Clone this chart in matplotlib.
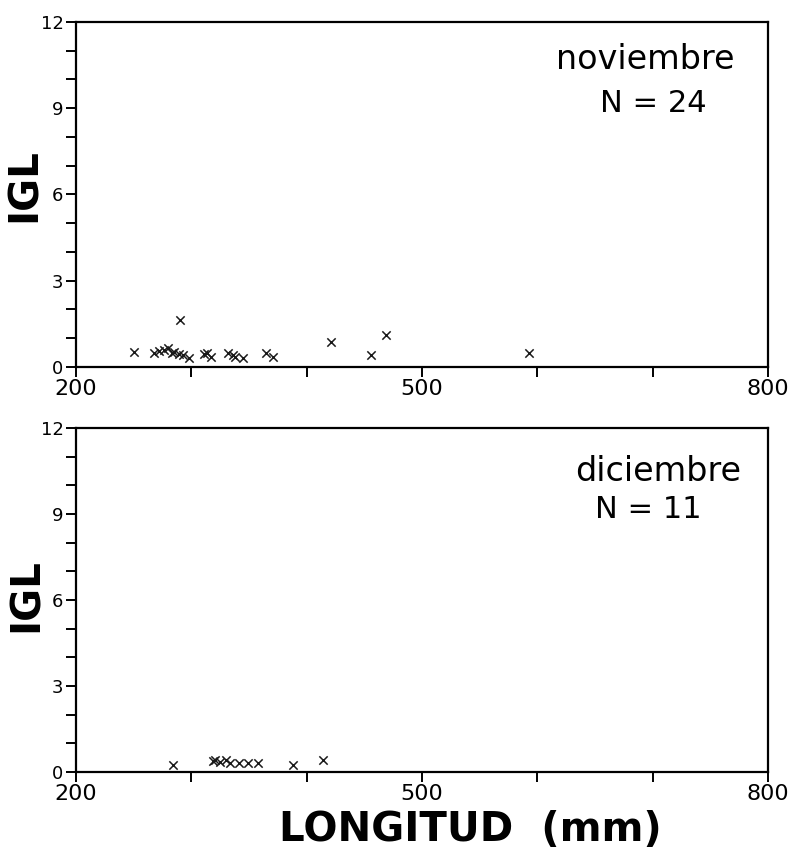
import matplotlib
matplotlib.use("Agg")
import matplotlib.pyplot as plt

# noviembre (N = 24)
nov_len = [250, 268, 272, 276, 280, 283, 285, 289, 293, 298, 290, 311,
           314, 317, 332, 336, 338, 345, 365, 371, 421, 456, 469, 593]
nov_igl = [0.52, 0.50, 0.55, 0.60, 0.65, 0.50, 0.52, 0.45, 0.42, 0.30, 1.64, 0.45,
           0.48, 0.35, 0.48, 0.40, 0.35, 0.30, 0.48, 0.35, 0.87, 0.42, 1.10, 0.49]

# diciembre (N = 11)
dic_len = [284, 319, 321, 325, 330, 334, 341, 349, 358, 388, 414]
dic_igl = [0.25, 0.40, 0.42, 0.35, 0.42, 0.30, 0.30, 0.30, 0.30, 0.25, 0.42]

x_ticks = [200, 300, 400, 500, 600, 700, 800]
x_labels = ["200", "", "", "500", "", "", "800"]
y_ticks = list(range(0, 13))
y_labels = [str(v) if v % 3 == 0 else "" for v in y_ticks]

fig = plt.figure(figsize=(7.88, 8.59), dpi=100)
ax1 = fig.add_axes([0.0964, 0.5728, 0.878, 0.4016])
ax2 = fig.add_axes([0.0964, 0.1013, 0.878, 0.4005])

panels = [
    (ax1, nov_len, nov_igl, "noviembre", "N = 24", (0.952, 0.89), (0.912, 0.765)),
    (ax2, dic_len, dic_igl, "diciembre", "N = 11", (0.962, 0.872), (0.905, 0.762)),
]

for ax, xs, ys, month, ntext, pos_m, pos_n in panels:
    ax.scatter(xs, ys, marker="x", s=36, c="#1a1a1a", linewidths=1.1, zorder=3)
    ax.set_xlim(200, 800)
    ax.set_ylim(0, 12)
    ax.set_xticks(x_ticks)
    ax.set_xticklabels(x_labels)
    ax.set_yticks(y_ticks)
    ax.set_yticklabels(y_labels)
    ax.tick_params(axis="both", direction="out", length=7, width=1.4, pad=2)
    ax.tick_params(axis="x", labelsize=16)
    ax.tick_params(axis="y", labelsize=13)
    for sp in ax.spines.values():
        sp.set_linewidth(1.6)
    ax.text(pos_m[0], pos_m[1], month, transform=ax.transAxes,
            ha="right", va="center", fontsize=24)
    ax.text(pos_n[0], pos_n[1], ntext, transform=ax.transAxes,
            ha="right", va="center", fontsize=22)

fig.text(25 / 788, 1 - 185 / 859, "IGL", rotation=90, ha="center", va="center",
         fontsize=29, fontweight="bold")
fig.text(27 / 788, 1 - 595 / 859, "IGL", rotation=90, ha="center", va="center",
         fontsize=29, fontweight="bold")
fig.text(470 / 788, 1 - 830 / 859, "LONGITUD  (mm)", ha="center", va="center",
         fontsize=29, fontweight="bold")

fig.savefig("out.png", dpi=100)
